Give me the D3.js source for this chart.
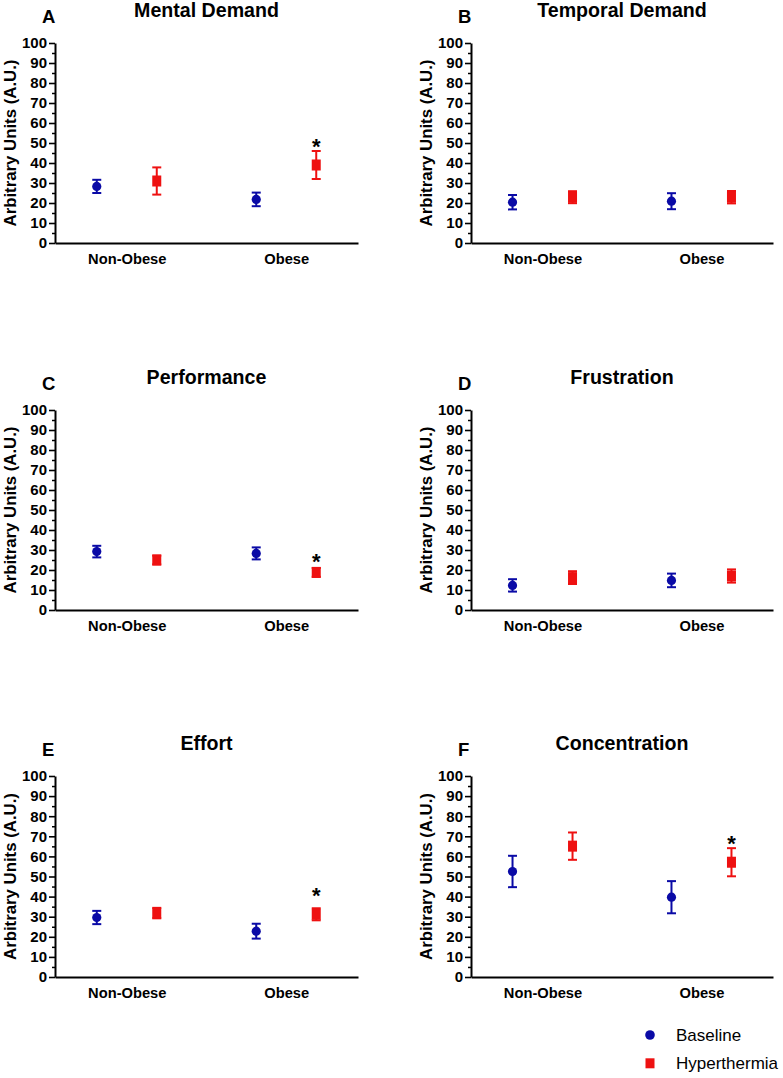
<!DOCTYPE html>
<html>
<head>
<meta charset="utf-8">
<script src="https://cdn.jsdelivr.net/npm/d3@7"></script>
<style>
  html, body { margin: 0; padding: 0; background: #fff; }
  svg { display: block; }
  text { font-family: "Liberation Sans", Arial, sans-serif; }
</style>
</head>
<body>
<svg id="chart" width="783" height="1078"></svg>
<script>
// ---------- data ----------
const categories = ["Non-Obese", "Obese"];
const panelLetters = ["A", "B", "C", "D", "E", "F"];
const panelTitles = ["Mental Demand", "Temporal Demand", "Performance", "Frustration", "Effort", "Concentration"];
const seriesNames = ["Baseline", "Hyperthermia"];
const yTickValues = [0, 10, 20, 30, 40, 50, 60, 70, 80, 90, 100];
const yMinorTickValues = [5, 15, 25, 35, 45, 55, 65, 75, 85, 95];

// means per panel, [Non-Obese, Obese]
const baselineMeans = [[28.3, 21.8], [20.4, 20.9], [29.2, 28.3], [12.3, 14.8], [29.6, 22.8], [52.5, 39.7]];
const baselineErrors = [[3.3, 3.4], [3.6, 4.0], [2.9, 3.0], [3.1, 3.4], [3.3, 3.7], [7.8, 8.0]];
const hyperMeans = [[31.0, 39.0], [22.9, 22.9], [25.0, 18.8], [16.2, 17.0], [31.8, 31.2], [65.1, 57.1]];
const hyperErrors = [[6.8, 7.0], [3.0, 3.1], [2.2, 2.2], [3.2, 3.3], [2.6, 3.0], [6.8, 7.0]];
// significance markers (value position of the asterisk above the Hyperthermia point), null = none
const starValues = [[null, 51], [null, null], [null, 27], [null, null], [null, 43], [null, 69]];

// ---------- layout ----------
const colX = [[55, 358], [471, 773]];
const rowY = [[243, 43], [610, 410], [977, 776]];
const colors = { Baseline: "#0a0aa6", Hyperthermia: "#ee1111" };
const offset = 30;

const svg = d3.select("#chart");

panelTitles.forEach((title, i) => {
  const col = i % 2, row = Math.floor(i / 2);
  const [x0, x1] = colX[col];
  const [yb, yt] = rowY[row];
  const g = svg.append("g");

  const x = d3.scalePoint().domain(categories).range([x0, x1]).padding(0.45);
  const y = d3.scaleLinear().domain([0, 100]).range([yb, yt]);

  // minor ticks
  g.append("g")
    .attr("transform", `translate(${x0},0)`)
    .call(d3.axisLeft(y).tickValues(yMinorTickValues).tickSize(3).tickSizeOuter(0).tickFormat(""))
    .call(a => a.select(".domain").remove())
    .call(a => a.selectAll("line").attr("stroke", "#000").attr("stroke-width", 1.5));

  // y axis
  g.append("g")
    .attr("transform", `translate(${x0},0)`)
    .call(d3.axisLeft(y).tickValues(yTickValues).tickSize(6).tickSizeOuter(0).tickPadding(2))
    .call(a => a.select(".domain").attr("stroke", "#000").attr("stroke-width", 2))
    .call(a => a.selectAll("line").attr("stroke", "#000").attr("stroke-width", 1.6))
    .call(a => a.selectAll("text")
      .attr("font-family", "'Liberation Sans', Arial, sans-serif")
      .attr("font-size", 15).attr("font-weight", "bold").attr("fill", "#000"));

  // x axis
  g.append("g")
    .attr("transform", `translate(0,${yb})`)
    .call(d3.axisBottom(x).tickSize(0).tickSizeOuter(0).tickPadding(11))
    .call(a => a.select(".domain").attr("stroke", "#000").attr("stroke-width", 2))
    .call(a => a.selectAll("text")
      .attr("font-family", "'Liberation Sans', Arial, sans-serif")
      .attr("font-size", 14.7).attr("font-weight", "bold").attr("fill", "#000"));

  // y axis title
  g.append("text")
    .attr("transform", `translate(${x0 - 39},${(yb + yt) / 2}) rotate(-90)`)
    .attr("text-anchor", "middle")
    .attr("font-size", 16.8).attr("font-weight", "bold")
    .text("Arbitrary Units (A.U.)");

  // panel title
  g.append("text")
    .attr("x", (x0 + x1) / 2).attr("y", yt - 26)
    .attr("text-anchor", "middle")
    .attr("font-size", 19.6).attr("font-weight", "bold")
    .text(title);

  // panel letter
  g.append("text")
    .attr("x", x0 - 13).attr("y", yt - 20)
    .attr("font-size", 18.5).attr("font-weight", "bold")
    .text(panelLetters[i]);

  // series
  const series = [
    { name: "Baseline", means: baselineMeans[i], errs: baselineErrors[i], dx: -offset },
    { name: "Hyperthermia", means: hyperMeans[i], errs: hyperErrors[i], dx: offset }
  ];
  series.forEach(s => {
    const c = colors[s.name];
    categories.forEach((cat, j) => {
      const cx = x(cat) + s.dx;
      const m = s.means[j], e = s.errs[j];
      const eg = g.append("g").attr("stroke", c).attr("stroke-width", 2);
      eg.append("line").attr("x1", cx).attr("x2", cx).attr("y1", y(m + e)).attr("y2", y(m - e));
      eg.append("line").attr("x1", cx - 4.5).attr("x2", cx + 4.5).attr("y1", y(m + e)).attr("y2", y(m + e));
      eg.append("line").attr("x1", cx - 4.5).attr("x2", cx + 4.5).attr("y1", y(m - e)).attr("y2", y(m - e));
      if (s.name === "Baseline") {
        g.append("circle").attr("cx", cx).attr("cy", y(m)).attr("r", 4.6).attr("fill", c);
      } else {
        g.append("rect").attr("x", cx - 4.5).attr("y", y(m) - 5.5).attr("width", 9).attr("height", 11).attr("fill", c);
      }
    });
  });

  // asterisks
  categories.forEach((cat, j) => {
    const sv = starValues[i][j];
    if (sv !== null) {
      g.append("text")
        .attr("x", x(cat) + offset).attr("y", y(sv) + 12.5)
        .attr("text-anchor", "middle")
        .attr("font-size", 22).attr("font-weight", "bold")
        .text("*");
    }
  });
});

// legend
const legend = svg.append("g");
seriesNames.forEach((name, k) => {
  const ly = 1035 + k * 28.3;
  if (name === "Baseline") {
    legend.append("circle").attr("cx", 650).attr("cy", ly).attr("r", 4.8).attr("fill", colors[name]);
  } else {
    legend.append("rect").attr("x", 645.5).attr("y", ly - 5).attr("width", 9).attr("height", 10).attr("fill", colors[name]);
  }
  legend.append("text").attr("x", 676).attr("y", ly + 5.8)
    .attr("font-size", 17).attr("fill", "#000").text(name);
});
</script>
</body>
</html>
